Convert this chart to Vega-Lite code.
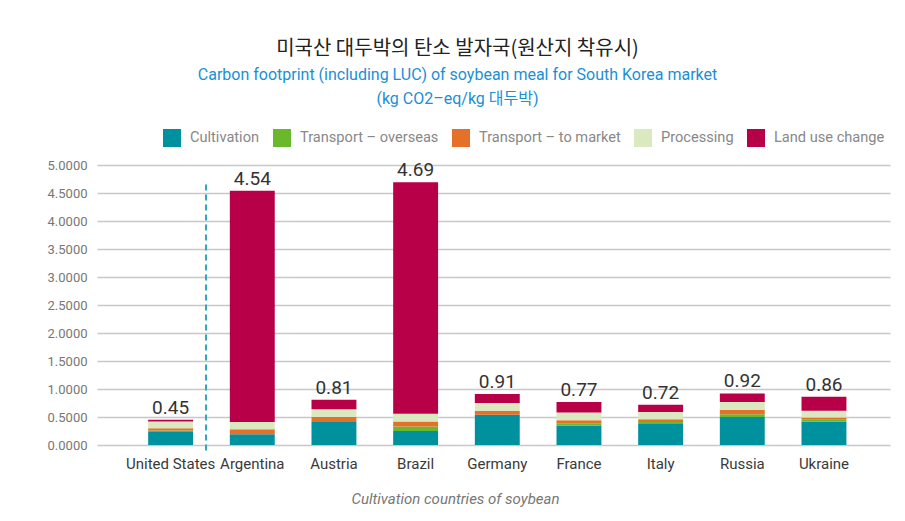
{
  "$schema": "https://vega.github.io/schema/vega-lite/v6.json",
  "width": 793,
  "height": 280,
  "autosize": {"type": "none"},
  "padding": {"left": 97, "top": 165, "right": 15, "bottom": 76},
  "background": "white",
  "config": {
    "font": "Roboto",
    "view": {"stroke": null}
  },
  "title": {
    "text": "미국산 대두박의 탄소 발자국(원산지 착유시)",
    "subtitle": ["Carbon footprint (including LUC) of soybean meal for South Korea market", "(kg CO2–eq/kg 대두박)"],
    "anchor": "middle",
    "dx": -36,
    "offset": 22,
    "font": "Noto Sans CJK KR",
    "fontSize": 20,
    "fontWeight": "normal",
    "color": "#222222",
    "subtitleFont": "Roboto, Noto Sans CJK KR",
    "subtitleFontSize": 16,
    "subtitleColor": "#1b8fd3",
    "subtitleLineHeight": 24,
    "subtitlePadding": 8
  },
  "data": {
    "values": [
      {"country": "United States", "component": "Cultivation", "value": 0.23},
      {"country": "United States", "component": "Transport – overseas", "value": 0.03},
      {"country": "United States", "component": "Transport – to market", "value": 0.04},
      {"country": "United States", "component": "Processing", "value": 0.12},
      {"country": "United States", "component": "Land use change", "value": 0.03},
      {"country": "Argentina", "component": "Cultivation", "value": 0.19},
      {"country": "Argentina", "component": "Transport – overseas", "value": 0.0},
      {"country": "Argentina", "component": "Transport – to market", "value": 0.09},
      {"country": "Argentina", "component": "Processing", "value": 0.13},
      {"country": "Argentina", "component": "Land use change", "value": 4.13},
      {"country": "Austria", "component": "Cultivation", "value": 0.41},
      {"country": "Austria", "component": "Transport – overseas", "value": 0.0},
      {"country": "Austria", "component": "Transport – to market", "value": 0.09},
      {"country": "Austria", "component": "Processing", "value": 0.14},
      {"country": "Austria", "component": "Land use change", "value": 0.17},
      {"country": "Brazil", "component": "Cultivation", "value": 0.25},
      {"country": "Brazil", "component": "Transport – overseas", "value": 0.08},
      {"country": "Brazil", "component": "Transport – to market", "value": 0.09},
      {"country": "Brazil", "component": "Processing", "value": 0.14},
      {"country": "Brazil", "component": "Land use change", "value": 4.13},
      {"country": "Germany", "component": "Cultivation", "value": 0.54},
      {"country": "Germany", "component": "Transport – overseas", "value": 0.0},
      {"country": "Germany", "component": "Transport – to market", "value": 0.07},
      {"country": "Germany", "component": "Processing", "value": 0.14},
      {"country": "Germany", "component": "Land use change", "value": 0.16},
      {"country": "France", "component": "Cultivation", "value": 0.35},
      {"country": "France", "component": "Transport – overseas", "value": 0.04},
      {"country": "France", "component": "Transport – to market", "value": 0.05},
      {"country": "France", "component": "Processing", "value": 0.14},
      {"country": "France", "component": "Land use change", "value": 0.19},
      {"country": "Italy", "component": "Cultivation", "value": 0.39},
      {"country": "Italy", "component": "Transport – overseas", "value": 0.02},
      {"country": "Italy", "component": "Transport – to market", "value": 0.05},
      {"country": "Italy", "component": "Processing", "value": 0.13},
      {"country": "Italy", "component": "Land use change", "value": 0.13},
      {"country": "Russia", "component": "Cultivation", "value": 0.5},
      {"country": "Russia", "component": "Transport – overseas", "value": 0.05},
      {"country": "Russia", "component": "Transport – to market", "value": 0.08},
      {"country": "Russia", "component": "Processing", "value": 0.14},
      {"country": "Russia", "component": "Land use change", "value": 0.15},
      {"country": "Ukraine", "component": "Cultivation", "value": 0.42},
      {"country": "Ukraine", "component": "Transport – overseas", "value": 0.03},
      {"country": "Ukraine", "component": "Transport – to market", "value": 0.04},
      {"country": "Ukraine", "component": "Processing", "value": 0.12},
      {"country": "Ukraine", "component": "Land use change", "value": 0.25}
    ]
  },
  "layer": [
    {
      "transform": [
        {"calculate": "indexof(['Cultivation', 'Transport – overseas', 'Transport – to market', 'Processing', 'Land use change'], datum.component)", "as": "stackRank"}
      ],
      "mark": {"type": "bar"},
      "encoding": {
        "x": {
          "field": "country",
          "type": "nominal",
          "sort": ["United States", "Argentina", "Austria", "Brazil", "Germany", "France", "Italy", "Russia", "Ukraine"],
          "scale": {"paddingInner": 0.45, "paddingOuter": 0.58, "align": 0.54},
          "axis": {
            "title": "Cultivation countries of soybean",
            "titleFontStyle": "italic",
            "titleFontWeight": "normal",
            "titleFontSize": 15,
            "titleColor": "#777777",
            "titlePadding": 20,
            "titleX": 358,
            "labelAngle": 0,
            "labelFontSize": 15,
            "labelColor": "#3a3a3a",
            "labelPadding": 11,
            "ticks": false,
            "domain": false
          }
        },
        "y": {
          "field": "value",
          "type": "quantitative",
          "aggregate": "sum",
          "stack": "zero",
          "scale": {"domain": [0, 5], "nice": false},
          "axis": {
            "title": null,
            "values": [0, 0.5, 1, 1.5, 2, 2.5, 3, 3.5, 4, 4.5, 5],
            "format": ".4f",
            "labelFontSize": 13,
            "labelColor": "#777777",
            "labelPadding": 10,
            "labelOverlap": false,
            "ticks": false,
            "domain": false,
            "gridColor": "#c8c8c8",
            "gridWidth": 1.6
          }
        },
        "order": {"field": "stackRank", "type": "quantitative", "sort": "ascending"},
        "color": {
          "field": "component",
          "type": "nominal",
          "sort": ["Cultivation", "Transport – overseas", "Transport – to market", "Processing", "Land use change"],
          "scale": {
            "domain": ["Cultivation", "Transport – overseas", "Transport – to market", "Processing", "Land use change"],
            "range": ["#00919e", "#6ab82c", "#e5702a", "#dae9c0", "#b80049"]
          },
          "legend": {
            "title": null,
            "orient": "none",
            "direction": "horizontal",
            "legendX": 66,
            "legendY": -36,
            "symbolType": "square",
            "symbolSize": 324,
            "symbolStrokeWidth": 0,
            "symbolOpacity": 1,
            "labelFontSize": 14.6,
            "labelColor": "#888888",
            "labelOffset": 9,
            "columnPadding": 13,
            "labelLimit": 300
          }
        }
      }
    },
    {
      "mark": {"type": "text", "baseline": "bottom", "dy": -2, "fontSize": 19, "color": "#333333"},
      "encoding": {
        "x": {
          "field": "country",
          "type": "nominal",
          "sort": ["United States", "Argentina", "Austria", "Brazil", "Germany", "France", "Italy", "Russia", "Ukraine"],
          "scale": {"paddingInner": 0.45, "paddingOuter": 0.58, "align": 0.54},
          "axis": {
            "title": "Cultivation countries of soybean",
            "titleFontStyle": "italic",
            "titleFontWeight": "normal",
            "titleFontSize": 15,
            "titleColor": "#777777",
            "titlePadding": 20,
            "titleX": 358,
            "labelAngle": 0,
            "labelFontSize": 15,
            "labelColor": "#3a3a3a",
            "labelPadding": 11,
            "ticks": false,
            "domain": false
          }
        },
        "y": {
          "field": "value",
          "type": "quantitative",
          "aggregate": "sum",
          "scale": {"domain": [0, 5], "nice": false},
          "axis": {
            "title": null,
            "values": [0, 0.5, 1, 1.5, 2, 2.5, 3, 3.5, 4, 4.5, 5],
            "format": ".4f",
            "labelFontSize": 13,
            "labelColor": "#777777",
            "labelPadding": 10,
            "labelOverlap": false,
            "ticks": false,
            "domain": false,
            "gridColor": "#c8c8c8",
            "gridWidth": 1.6
          }
        },
        "text": {"field": "value", "type": "quantitative", "aggregate": "sum", "format": ".2f"}
      }
    },
    {
      "data": {"values": [{"country": "Argentina", "value": 4.65, "value2": -0.14}]},
      "mark": {"type": "rule", "color": "#30a6c2", "strokeWidth": 2, "strokeDash": [6, 4]},
      "encoding": {
        "x": {
          "field": "country",
          "type": "nominal",
          "bandPosition": -0.53,
          "sort": ["United States", "Argentina", "Austria", "Brazil", "Germany", "France", "Italy", "Russia", "Ukraine"],
          "scale": {"paddingInner": 0.45, "paddingOuter": 0.58, "align": 0.54},
          "axis": {
            "title": "Cultivation countries of soybean",
            "titleFontStyle": "italic",
            "titleFontWeight": "normal",
            "titleFontSize": 15,
            "titleColor": "#777777",
            "titlePadding": 20,
            "titleX": 358,
            "labelAngle": 0,
            "labelFontSize": 15,
            "labelColor": "#3a3a3a",
            "labelPadding": 11,
            "ticks": false,
            "domain": false
          }
        },
        "y": {
          "field": "value",
          "type": "quantitative",
          "scale": {"domain": [0, 5], "nice": false},
          "axis": {
            "title": null,
            "values": [0, 0.5, 1, 1.5, 2, 2.5, 3, 3.5, 4, 4.5, 5],
            "format": ".4f",
            "labelFontSize": 13,
            "labelColor": "#777777",
            "labelPadding": 10,
            "labelOverlap": false,
            "ticks": false,
            "domain": false,
            "gridColor": "#c8c8c8",
            "gridWidth": 1.6
          }
        },
        "y2": {"field": "value2"}
      }
    }
  ]
}
